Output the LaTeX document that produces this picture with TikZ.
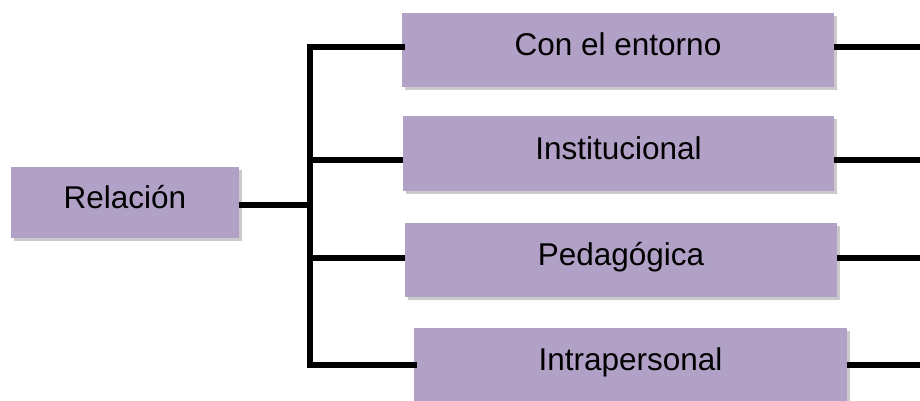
\documentclass[tikz,border=0pt]{standalone}
\usepackage{fontspec}
\setmainfont{Liberation Sans}
\usetikzlibrary{shadows,calc}
\definecolor{boxfill}{HTML}{B1A1C7}
\begin{document}
\begin{tikzpicture}[x=1pt,y=-1pt,
  box/.style={draw=none,fill=boxfill,minimum height=74pt,inner sep=0pt,
    font=\fontsize{31.5}{36}\selectfont,text height=23pt,text depth=12pt,
    drop shadow={shadow xshift=2.5pt,shadow yshift=-3pt,opacity=0.35,fill=black!60}},
  conn/.style={line width=6.5pt,black}]
\useasboundingbox (0,0) rectangle (920,401);
\node[box,minimum width=228pt,minimum height=71pt] (r) at (125,202.5) {Relación};
\node[box,minimum width=432pt] (b1) at (618,50) {Con el entorno};
\node[box,minimum width=431pt] (b2) at (618.5,153.5) {Institucional};
\node[box,minimum width=432pt] (b3) at (621,259.5) {Pedagógica};
\node[box,minimum width=433pt] (b4) at (630.5,365) {Intrapersonal};
\coordinate (y1) at (0,47);
\coordinate (y2) at (0,160);
\coordinate (y3) at (0,258);
\coordinate (y4) at (0,365);
\coordinate (yr) at (0,205);
\coordinate (sx) at (310,0);
\coordinate (ex) at (920,0);
\draw[conn] (r.east |- yr) -- (sx |- yr);
\draw[conn,line cap=rect] (b1.west |- y1) -- (sx |- y1) -- (sx |- y4) -- (b4.west |- y4);
\draw[conn] (sx |- y2) -- (b2.west |- y2);
\draw[conn] (sx |- y3) -- (b3.west |- y3);
\draw[conn] (b1.east |- y1) -- (ex |- y1);
\draw[conn] (b2.east |- y2) -- (ex |- y2);
\draw[conn] (b3.east |- y3) -- (ex |- y3);
\draw[conn] (b4.east |- y4) -- (ex |- y4);
\end{tikzpicture}
\end{document}
